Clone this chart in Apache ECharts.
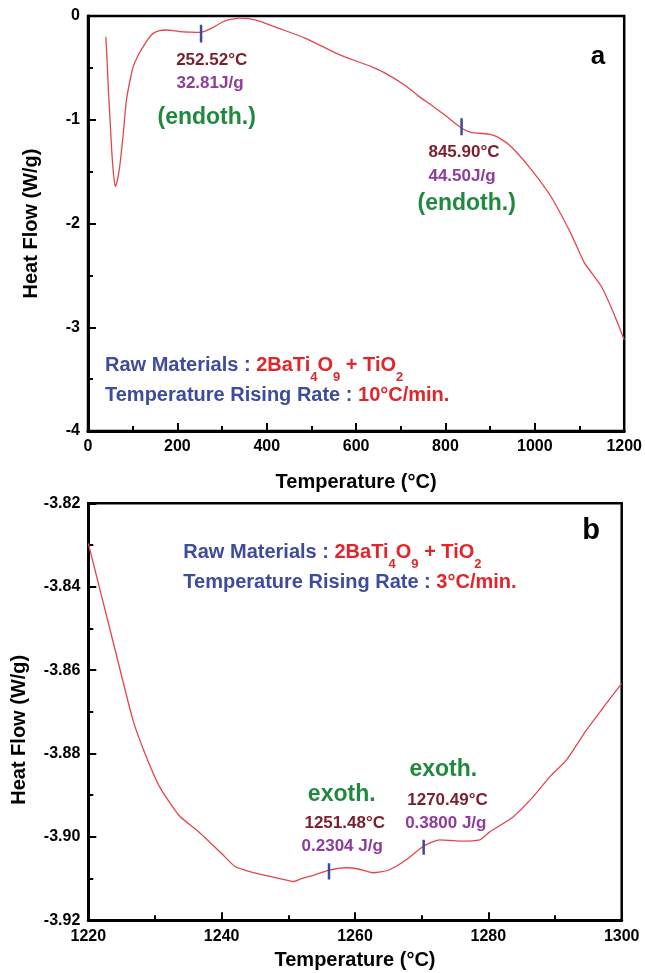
<!DOCTYPE html>
<html>
<head>
<meta charset="utf-8">
<script src="https://cdn.jsdelivr.net/npm/echarts@6/dist/echarts.min.js"></script>
<style>
  html, body { margin: 0; padding: 0; background: #fff; }
  #chart { width: 645px; height: 973px; }
</style>
</head>
<body>
<div id="chart"></div>
<script>
// panel a : 10 C/min
const topTemp = [40, 43, 46, 50, 53, 57, 61, 65, 71, 79, 86, 95, 101, 112, 123, 135, 145, 160, 175, 190, 205, 230, 252, 265, 280, 300, 316, 340, 360, 383, 428, 487, 561, 635, 665, 710, 739, 769, 800, 836, 855, 873, 900, 918, 947, 992, 1036, 1081, 1111, 1148, 1175, 1200]
const topHeat = [-0.2, -0.46, -0.74, -1.05, -1.29, -1.52, -1.645, -1.6, -1.45, -1.13, -0.81, -0.6, -0.49, -0.38, -0.3, -0.22, -0.17, -0.14, -0.135, -0.14, -0.15, -0.155, -0.157, -0.14, -0.11, -0.06, -0.035, -0.02, -0.025, -0.05, -0.12, -0.215, -0.37, -0.49, -0.55, -0.67, -0.77, -0.86, -0.96, -1.08, -1.12, -1.13, -1.14, -1.17, -1.26, -1.48, -1.74, -2.1, -2.38, -2.6, -2.85, -3.12]
const topXTicks = [0, 200, 400, 600, 800, 1000, 1200]
const topYTicks = [-4, -3, -2, -1, 0]
const topMarkTemp = [253, 836]
const topMarkHeat = [[-0.085, -0.255], [-0.985, -1.15]]

// panel b : 3 C/min
const bottomTemp = [1220, 1222, 1224, 1226.7, 1228.5, 1230.7, 1233.7, 1236.7, 1240, 1242, 1244, 1246.7, 1249, 1250.7, 1252, 1254, 1256, 1258.7, 1260.5, 1262.7, 1265, 1267.7, 1270.2, 1272.7, 1275.7, 1278.7, 1280.2, 1283.7, 1286.7, 1289.2, 1291.7, 1294.7, 1297.7, 1300]
const bottomHeat = [-3.8296, -3.8423, -3.855, -3.872, -3.88, -3.888, -3.895, -3.899, -3.904, -3.9071, -3.9082, -3.9093, -3.9101, -3.9107, -3.91, -3.9091, -3.908, -3.9074, -3.9077, -3.9086, -3.908, -3.9055, -3.9023, -3.9007, -3.901, -3.9007, -3.8988, -3.8952, -3.8904, -3.8856, -3.8816, -3.8744, -3.868, -3.8632]
const bottomXTicks = [1220, 1240, 1260, 1280, 1300]
const bottomYTicks = [-3.92, -3.9, -3.88, -3.86, -3.84, -3.82]
const bottomMarkTemp = [1256.1, 1270.3]
const bottomMarkHeat = [[-3.9063, -3.9102], [-3.9007, -3.9043]]

const FONT = "'Liberation Sans', Arial, sans-serif"
const curveColor = '#e3474c'
const markColor = '#3a4ca0'
const tempColor = '#7c1e2b'
const enthColor = '#8c3c9c'
const greenColor = '#1f8a3e'
const blueText = '#3d4c9c'
const redText = '#e0262b'

const pairs = (xs, ys) => xs.map((x, i) => [x, ys[i]])

const axisStyle = (ticks, gap, fmt) => ({
  min: ticks[0],
  max: ticks[ticks.length - 1],
  interval: +(ticks[1] - ticks[0]).toFixed(4),
  nameLocation: 'middle',
  nameGap: gap,
  nameTextStyle: { color: '#000', fontWeight: 'bold', fontSize: 20, fontFamily: FONT },
  axisLine: { onZero: false, lineStyle: { color: '#000', width: 3 } },
  axisTick: { inside: true, length: 8, lineStyle: { color: '#000', width: 2 } },
  minorTick: { show: true, splitNumber: 2, length: 5, lineStyle: { color: '#000', width: 2 } },
  axisLabel: { color: '#000', fontWeight: 'bold', fontSize: 16, fontFamily: FONT, formatter: fmt || ((v) => String(v)) },
  splitLine: { show: false }
})

const markSeries = (temps, heats, xi) =>
  temps.map((t, i) => ({
    type: 'line',
    xAxisIndex: xi,
    yAxisIndex: xi,
    silent: true,
    showSymbol: false,
    data: [[t, heats[i][0]], [t, heats[i][1]]],
    lineStyle: { color: markColor, width: 2.5 },
    z: 5
  }))

const txt = (x, y, text, color, size, align) => ({
  type: 'text',
  x: x,
  y: y,
  style: {
    text: text,
    fill: color,
    font: 'bold ' + size + 'px ' + FONT,
    align: align || 'center',
    verticalAlign: 'middle'
  }
})

// text with subscript chemistry
const richLine = (x, y, text) => ({
  type: 'text',
  x: x,
  y: y,
  style: {
    text: text,
    align: 'left',
    verticalAlign: 'middle',
    rich: {
      b: { fill: blueText, font: 'bold 20px ' + FONT, lineHeight: 37 },
      r: { fill: redText, font: 'bold 20px ' + FONT, lineHeight: 37 },
      s: { fill: redText, font: 'bold 13px ' + FONT, lineHeight: 13, verticalAlign: 'bottom' }
    }
  }
})

const chart = echarts.init(document.getElementById('chart'))

const bottomY = Object.assign(axisStyle(bottomYTicks, 59, (v) => v.toFixed(2)), { type: 'value', gridIndex: 1, name: 'Heat Flow (W/g)' })
bottomY.nameTextStyle = Object.assign({}, bottomY.nameTextStyle, { padding: [0, 36, 0, 0] })

chart.setOption({
  animation: false,
  backgroundColor: '#fff',
  grid: [
    { left: 88, top: 16, width: 538.7, height: 415, show: true, borderColor: '#000', borderWidth: 2.5 },
    { left: 88.3, top: 503.3, width: 533.4, height: 417, show: true, borderColor: '#000', borderWidth: 2.5 }
  ],
  xAxis: [
    Object.assign(axisStyle(topXTicks, 41), { type: 'value', gridIndex: 0, name: 'Temperature (°C)' }),
    Object.assign(axisStyle(bottomXTicks, 30), { type: 'value', gridIndex: 1, name: 'Temperature (°C)' })
  ],
  yAxis: [
    Object.assign(axisStyle(topYTicks, 47), { type: 'value', gridIndex: 0, name: 'Heat Flow (W/g)' }),
    bottomY
  ],
  series: [
    {
      type: 'line',
      xAxisIndex: 0,
      yAxisIndex: 0,
      data: pairs(topTemp, topHeat),
      showSymbol: false,
      smooth: 0.2,
      lineStyle: { color: curveColor, width: 1.3 }
    },
    {
      type: 'line',
      xAxisIndex: 1,
      yAxisIndex: 1,
      data: pairs(bottomTemp, bottomHeat),
      showSymbol: false,
      smooth: 0.2,
      lineStyle: { color: curveColor, width: 1.3 }
    },
    ...markSeries(topMarkTemp, topMarkHeat, 0),
    ...markSeries(bottomMarkTemp, bottomMarkHeat, 1)
  ],
  graphic: [
    txt(598, 57, 'a', '#000', 26),
    txt(211.7, 60, '252.52°C', tempColor, 17),
    txt(210, 83, '32.81J/g', enthColor, 17),
    txt(206.7, 118, '(endoth.)', greenColor, 23),
    txt(464, 152.5, '845.90°C', tempColor, 17),
    txt(462, 176.7, '44.50J/g', enthColor, 17),
    txt(466.7, 203.3, '(endoth.)', greenColor, 23),
    richLine(105, 365, '{b|Raw Materials : }{r|2BaTi}{s|4}{r|O}{s|9}{r| + TiO}{s|2}'),
    richLine(105, 395, '{b|Temperature Rising Rate : }{r|10°C/min.}'),

    txt(591, 531, 'b', '#000', 29),
    richLine(183.3, 552, '{b|Raw Materials : }{r|2BaTi}{s|4}{r|O}{s|9}{r| + TiO}{s|2}'),
    richLine(183.3, 582, '{b|Temperature Rising Rate : }{r|3°C/min.}'),
    txt(341.7, 795, 'exoth.', greenColor, 23),
    txt(344.7, 823.3, '1251.48°C', tempColor, 17),
    txt(342.2, 846.7, '0.2304 J/g', enthColor, 17),
    txt(443.3, 770, 'exoth.', greenColor, 23),
    txt(447.5, 800, '1270.49°C', tempColor, 17),
    txt(445.8, 823.3, '0.3800 J/g', enthColor, 17)
  ]
})

window.addEventListener('resize', function () {
  chart && chart.resize()
})
</script>
</body>
</html>
